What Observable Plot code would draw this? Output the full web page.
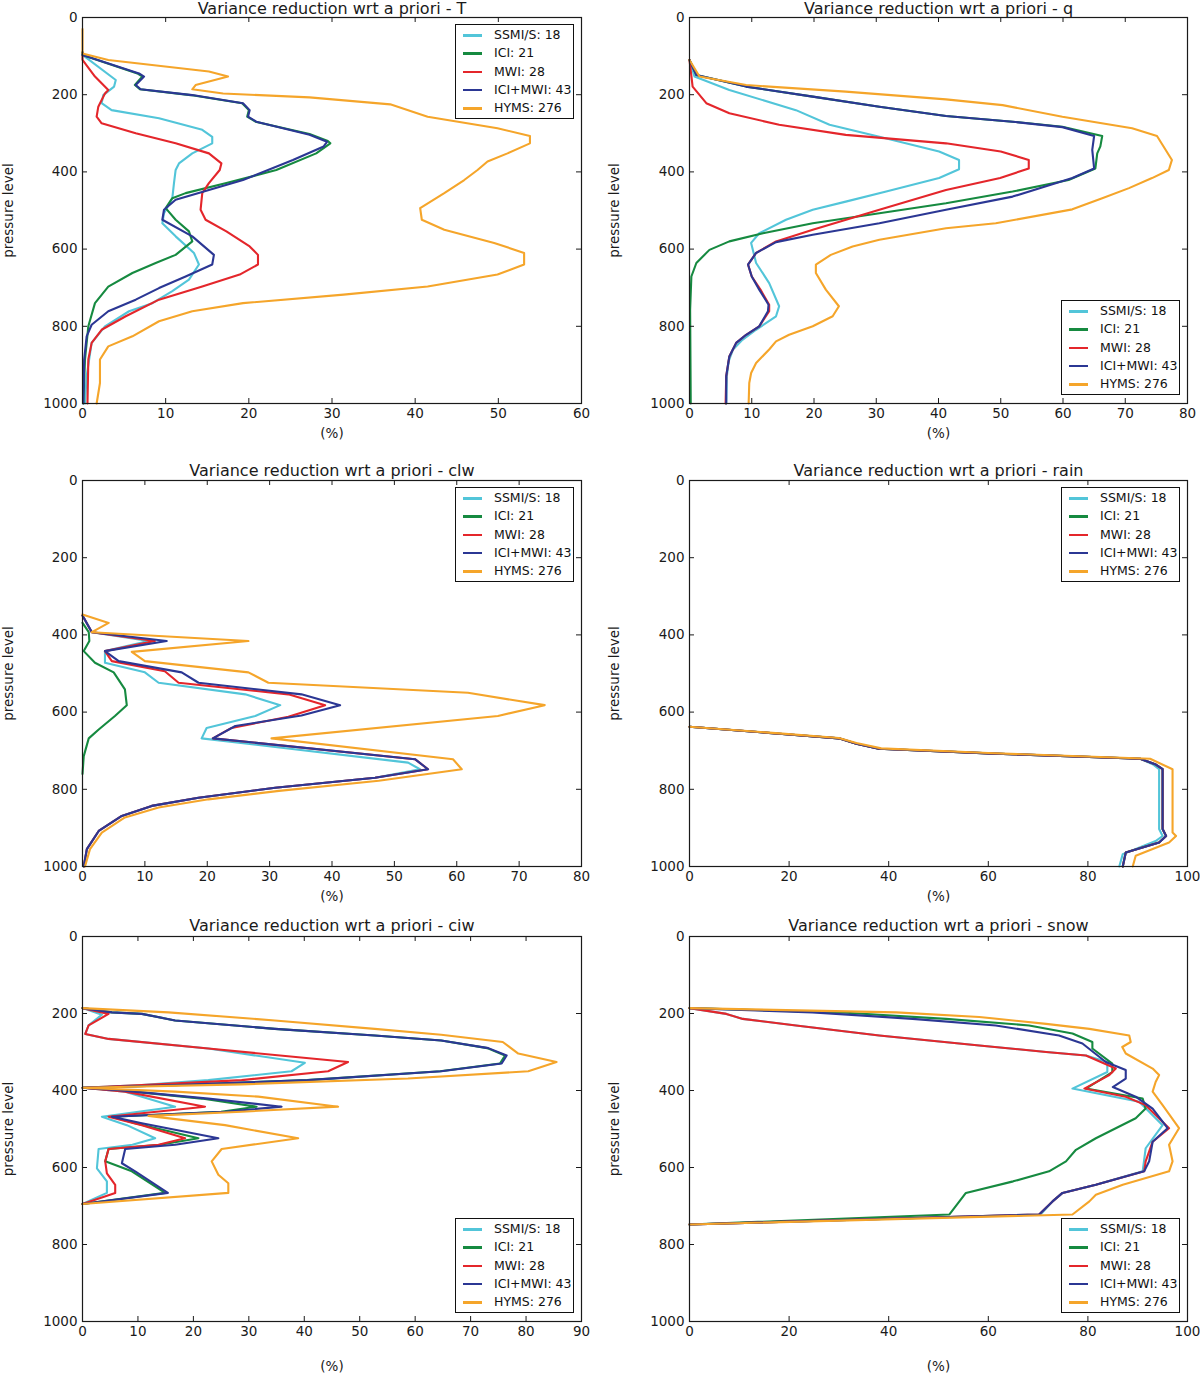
<!DOCTYPE html>
<html><head><meta charset="utf-8">
<script src="https://cdn.jsdelivr.net/npm/d3@7"></script>
<script src="https://cdn.jsdelivr.net/npm/@observablehq/plot@0.6"></script>
<style>
body{margin:0;background:#fff;}
#wrap{position:relative;width:1200px;height:1374px;font-family:"DejaVu Sans",sans-serif;overflow:hidden;}
.panel{position:absolute;}
.legend{position:absolute;width:117px;height:93px;border:1px solid #111;background:#fff;font-size:12.5px;color:#111;}
.legend .row{position:absolute;left:0;height:18px;width:117px;}
.legend .sw{position:absolute;left:7px;top:8px;width:19px;height:2.5px;}
.legend .lb{position:absolute;left:38px;top:0;line-height:18px;white-space:nowrap;}
</style></head><body><div id="wrap"></div>
<script>
// Series labels and colours
const SERIES = ["SSMI/S: 18", "ICI: 21", "MWI: 28", "ICI+MWI: 43", "HYMS: 276"];
const COLORS = ["#52c5d9", "#168a40", "#e4262b", "#2b3794", "#f5a52a"];
const Y_TICKS = [0, 200, 400, 600, 800, 1000];

// ---- T : [percent, pressure level] ----
const T_SSMIS = [[0,90],[0,97],[4.0,162],[3.8,179],[2.5,201],[2.3,222],[3.5,240],[9.2,261],[14.4,291],[15.6,309],[15.6,326],[13.2,352],[11.6,378],[11.2,395],[11.0,429],[10.8,468],[9.8,507],[9.6,533],[11.2,567],[13.4,610],[14.0,640],[12.8,679],[10.8,709],[8.4,740],[5.6,761],[2.7,800],[1.1,843],[0.5,929],[0.3,1000]];
const T_ICI = [[0,90],[0,97],[6.6,145],[7.2,153],[6.3,175],[6.9,186],[13.0,201],[19.2,222],[20.0,240],[19.8,257],[20.8,270],[27.3,302],[29.5,320],[29.8,326],[28.1,352],[23.3,395],[17.3,429],[12.4,455],[10.8,468],[10.0,494],[11.2,524],[12.8,554],[13.2,580],[11.2,615],[8.8,636],[6.0,662],[3.1,697],[1.5,740],[0.7,800],[0.3,886],[0.1,1000]];
const T_MWI = [[0,100],[0,110],[1.5,153],[3.1,188],[2.7,197],[1.9,231],[1.7,257],[2.3,274],[6.4,300],[11.2,326],[15.2,352],[16.7,378],[16.5,395],[15.2,429],[14.4,455],[14.2,498],[14.8,524],[17.3,554],[20.1,593],[21.1,615],[21.1,640],[18.9,666],[14.4,697],[9.2,731],[5.2,774],[2.3,809],[1.1,843],[0.7,886],[0.6,1000]];
const T_ICIMWI = [[0,90],[0,97],[6.8,145],[7.4,153],[6.4,175],[7.0,186],[13.2,201],[19.3,222],[20.1,240],[19.9,257],[20.9,270],[27.3,304],[29.4,322],[29.0,334],[25.3,369],[19.3,421],[15.2,447],[11.2,472],[9.8,498],[9.6,524],[13.2,567],[15.8,615],[15.6,640],[12.4,671],[9.2,701],[6.4,731],[3.1,761],[1.1,796],[0.5,826],[0.2,886],[0.1,1000]];
const T_HYMS = [[0,30],[0,93],[3.1,110],[15.2,140],[17.5,153],[13.6,175],[13.2,186],[16.9,197],[27.3,207],[37.0,225],[41.5,257],[49.9,287],[53.8,307],[53.8,326],[51.1,352],[48.7,373],[47.5,395],[45.9,421],[43.5,455],[40.6,494],[40.8,524],[43.5,550],[49.5,584],[53.1,610],[53.1,640],[49.9,666],[41.5,697],[31.4,718],[19.3,740],[13.2,761],[9.2,787],[6.0,826],[3.1,852],[2.1,886],[2.1,947],[1.7,1000]];

// ---- q ----
const q_SSMIS = [[0,110],[0.8,153],[6.4,188],[17.1,240],[22.5,278],[30.5,309],[40.1,347],[43.3,369],[43.3,393],[40.1,416],[31.6,451],[25.1,477],[19.8,498],[15.5,524],[11.2,559],[9.9,584],[10.7,636],[12.8,688],[14.4,748],[13.9,774],[10.7,809],[8.5,835],[7.0,860],[6.3,890],[6.0,929],[5.9,1000]];
const q_ICI = [[0,110],[1.1,149],[9.1,179],[19.8,205],[30.5,231],[41.2,255],[51.9,270],[59.9,283],[66.3,307],[66.0,334],[65.5,352],[65.2,391],[60.9,421],[51.9,451],[41.2,481],[30.5,507],[19.8,533],[11.8,559],[6.4,580],[3.2,602],[1.1,636],[0.3,671],[0.1,757],[0.2,1000]];
const q_MWI = [[0,110],[0.5,179],[2.7,222],[6.4,248],[14.4,278],[25.1,304],[41.2,326],[50.0,347],[54.5,369],[54.5,391],[49.9,416],[41.2,447],[30.5,498],[19.8,550],[13.9,580],[10.7,610],[9.4,640],[10.0,671],[11.4,705],[12.8,744],[12.8,761],[11.2,800],[9.1,822],[7.5,843],[6.4,878],[5.9,929],[5.8,1000]];
const q_ICIMWI = [[0,110],[1.1,149],[9.1,179],[19.8,205],[30.5,231],[41.2,255],[51.9,270],[59.9,284],[65.0,307],[64.7,343],[65.0,391],[61.5,416],[51.9,464],[41.2,498],[30.5,533],[19.8,563],[13.9,582],[10.7,610],[9.4,640],[10.0,671],[11.2,705],[12.7,744],[12.6,761],[11.2,800],[9.1,822],[7.5,843],[6.4,878],[5.9,929],[5.9,1000]];
const q_HYMS = [[0,110],[1.6,153],[9.1,175],[25.1,192],[41.2,212],[50.3,227],[59.9,257],[71.1,287],[75.1,307],[77.5,369],[77.0,395],[74.3,416],[70.6,442],[66.3,468],[61.5,497],[49.2,533],[41.2,546],[30.5,576],[26.2,593],[22.7,615],[20.3,640],[20.3,662],[21.9,705],[24.0,748],[23.0,774],[19.8,800],[16.0,822],[13.9,839],[12.8,860],[10.7,895],[9.9,921],[9.6,947],[9.5,1000]];

// ---- clw ----
const clw_SSMIS = [[0,350],[1.5,393],[10.6,416],[3.6,442],[3.6,472],[10.0,497],[12.2,524],[26.1,554],[31.7,582],[27.7,610],[19.9,641],[19.1,668],[52.2,731],[54.1,748],[46.9,770],[30.9,796],[18.6,822],[11.1,843],[6.3,869],[2.6,908],[0.7,955],[0.2,1000]];
const clw_ICI = [[0,369],[1.0,393],[1.1,416],[0.2,442],[2.0,472],[5.0,497],[6.8,541],[7.1,582],[5.2,610],[2.6,645],[1.0,668],[0.2,714],[0,760]];
const clw_MWI = [[0,350],[1.5,393],[11.6,416],[3.6,442],[4.7,468],[13.2,494],[15.4,524],[33.0,554],[38.9,582],[33.0,612],[23.9,641],[20.9,668],[53.3,722],[55.4,748],[46.9,770],[30.9,796],[18.6,822],[11.1,843],[6.3,869],[2.6,908],[0.7,955],[0.2,1000]];
const clw_ICIMWI = [[0,350],[1.5,393],[13.5,416],[3.6,442],[5.8,468],[15.9,497],[18.6,524],[35.1,554],[41.3,582],[35.1,609],[24.5,636],[20.9,668],[53.3,722],[55.4,748],[46.9,770],[30.9,796],[18.6,822],[11.1,843],[6.3,869],[2.6,908],[0.7,955],[0.2,1000]];
const clw_HYMS = [[0,347],[4.2,369],[1.5,393],[26.6,416],[7.9,444],[10.0,468],[26.6,497],[29.8,524],[61.8,550],[74.1,582],[66.6,610],[30.3,668],[59.4,722],[60.8,748],[47.5,778],[31.5,804],[20.2,826],[12.2,847],[6.8,873],[3.1,912],[1.2,955],[0.4,1000]];

// ---- rain ----
const rain_SSMIS = [[0,638],[18,656],[30,668],[33.5,682],[38,695],[60,707],[90.5,721],[93,735],[94.3,748],[94.3,903],[95,921],[93.6,934],[87,968],[86.3,1000]];
const rain_ICI = [[0,638],[18,656],[30,668],[33.5,682],[38,695],[60,707],[90.5,721],[93.5,735],[95,748],[95,903],[95.7,921],[94.3,938],[87.6,964],[87,1000]];
const rain_MWI = [[0,638],[18,656],[30,668],[33.5,682],[38,695],[60,707],[90.5,721],[93.5,735],[95,748],[95,903],[95.7,921],[94.3,938],[87.6,964],[87,1000]];
const rain_ICIMWI = [[0,638],[18,656],[30,668],[33.5,682],[38,695],[60,707],[90.5,721],[93.5,735],[95,748],[95,903],[95.7,921],[94.3,938],[87.6,964],[87,1000]];
const rain_HYMS = [[0,638],[18,655],[30,667],[33.5,680],[38.5,694],[60,706],[92.5,721],[97,748],[97,912],[97.7,921],[96.3,938],[89.6,972],[89,1000]];

// ---- ciw ----
const ciw_SSMIS = [[0,186],[3.5,203],[1.1,231],[0.5,253],[4.7,266],[22.7,291],[40.1,328],[37.7,350],[22.7,373],[10.7,386],[0,393],[7.7,403],[16.7,442],[3.5,468],[8.0,490],[13.1,524],[9.0,541],[2.9,552],[2.6,602],[4.4,636],[4.4,666],[0,695]];
const ciw_ICI = [[0,186],[5.3,197],[10.7,201],[16.7,218],[34.7,240],[52.7,257],[64.7,270],[73.0,290],[76.2,309],[75.3,330],[64.5,350],[40.5,373],[16.5,386],[0,393],[6.5,399],[21.5,421],[31.4,442],[25.0,455],[5.3,468],[9.5,485],[20.9,524],[14.0,541],[4.7,552],[4.1,584],[8.9,610],[14.9,666],[0,695]];
const ciw_MWI = [[0,186],[4.7,201],[1.1,231],[0.5,253],[4.7,266],[22.7,291],[47.9,326],[44.3,350],[28.7,373],[10.7,386],[0,393],[7.7,403],[22.1,442],[10.7,459],[4.7,468],[10.7,490],[18.5,524],[13.7,541],[4.7,552],[4.1,584],[4.4,615],[5.9,645],[5.9,666],[0,695]];
const ciw_ICIMWI = [[0,186],[5.3,197],[10.7,201],[16.7,218],[34.7,240],[52.7,257],[64.7,270],[73.2,290],[76.5,309],[75.6,330],[64.7,350],[40.7,373],[16.7,386],[0,393],[6.5,399],[22.7,421],[35.9,442],[25.7,455],[5.3,468],[10.7,485],[24.5,524],[16.7,541],[7.7,552],[7.1,589],[9.5,610],[15.4,666],[0,695]];
const ciw_HYMS = [[0,186],[15.5,197],[34.7,218],[52.7,240],[64.7,255],[75.8,274],[78.6,304],[85.5,326],[80.4,350],[58.7,369],[28.7,384],[0,393],[16.7,403],[31.7,416],[46.1,442],[28.7,455],[11.9,466],[25.7,490],[38.9,524],[25.1,552],[23.3,584],[24.5,619],[26.3,641],[26.3,666],[0,695]];

// ---- snow ----
const snow_SSMIS = [[0,186],[7.4,201],[10.7,214],[21.4,231],[38.1,257],[58.2,283],[71.6,300],[79.6,309],[83.9,326],[83.9,352],[76.9,395],[90.3,429],[95.0,490],[91.6,550],[91.0,610],[81.6,645],[74.9,666],[72.9,688],[70.5,722],[0,748]];
const snow_ICI = [[0,186],[31.4,198],[51.5,214],[68.2,231],[76.9,252],[80.9,274],[80.9,291],[84.9,330],[84.9,352],[79.6,395],[91.0,421],[91.6,447],[89.6,472],[85.6,498],[81.6,524],[77.6,554],[75.6,584],[72.2,610],[65.0,636],[55.5,666],[52.2,722],[0,748]];
const snow_MWI = [[0,186],[7.4,201],[10.7,214],[21.4,231],[38.1,257],[58.2,283],[71.6,300],[79.6,309],[85.6,343],[84.3,360],[79.3,395],[87.6,416],[91.6,438],[96.3,498],[93.0,533],[91.6,584],[91.3,610],[81.6,645],[74.9,666],[72.9,688],[70.2,722],[0,748]];
const snow_ICIMWI = [[0,186],[24.7,197],[44.8,214],[61.5,231],[74.2,257],[78.9,278],[83.6,326],[87.6,347],[87.6,369],[85.0,391],[89.6,416],[93.0,447],[96.0,498],[93.0,533],[92.3,584],[91.3,610],[81.6,645],[74.9,666],[72.9,688],[70.2,722],[0,748]];
const snow_HYMS = [[0,186],[41.5,197],[58.2,209],[71.6,227],[80.3,240],[88.3,257],[88.6,274],[86.9,287],[87.6,304],[93.0,343],[94.3,360],[93.6,378],[93.0,403],[95.0,438],[98.3,498],[96.3,541],[97.0,584],[96.3,610],[87.0,645],[81.6,671],[80.3,688],[76.9,722],[0,748]];

const PANELS = [
  {title:"Variance reduction wrt a priori - T",    series:[T_SSMIS,T_ICI,T_MWI,T_ICIMWI,T_HYMS],                xmax:60,  xstep:10, col:0, row:0, legend:"top"},
  {title:"Variance reduction wrt a priori - q",    series:[q_SSMIS,q_ICI,q_MWI,q_ICIMWI,q_HYMS],                xmax:80,  xstep:10, col:1, row:0, legend:"bottom"},
  {title:"Variance reduction wrt a priori - clw",  series:[clw_SSMIS,clw_ICI,clw_MWI,clw_ICIMWI,clw_HYMS],      xmax:80,  xstep:10, col:0, row:1, legend:"top"},
  {title:"Variance reduction wrt a priori - rain", series:[rain_SSMIS,rain_ICI,rain_MWI,rain_ICIMWI,rain_HYMS], xmax:100, xstep:20, col:1, row:1, legend:"top"},
  {title:"Variance reduction wrt a priori - ciw",  series:[ciw_SSMIS,ciw_ICI,ciw_MWI,ciw_ICIMWI,ciw_HYMS],      xmax:90,  xstep:10, col:0, row:2, legend:"bottom"},
  {title:"Variance reduction wrt a priori - snow", series:[snow_SSMIS,snow_ICI,snow_MWI,snow_ICIMWI,snow_HYMS], xmax:100, xstep:20, col:1, row:2, legend:"bottom"}
];

const ROWS = [
  {top:0,   height:450, mt:17, mb:47, titleDy:-4, pctDy:30},
  {top:460, height:450, mt:20, mb:44, titleDy:-5, pctDy:30},
  {top:915, height:459, mt:21, mb:53, titleDy:-6, pctDy:45}
];
const COLS = [
  {left:0,   width:600, ml:82, mr:19, ylabDx:-74},
  {left:600, width:600, ml:89, mr:13, ylabDx:-75}
];

const wrap = document.getElementById("wrap");
const ink = "#1a1a1a";

for (const p of PANELS) {
  const R = ROWS[p.row], C = COLS[p.col];
  const plotW = C.width - C.ml - C.mr;
  const plotH = R.height - R.mt - R.mb;
  const xt = d3.range(0, p.xmax + 0.001, p.xstep);
  const marks = [];
  p.series.forEach((s, i) => {
    marks.push(Plot.line(s, {x: d => d[0], y: d => d[1], stroke: COLORS[i], strokeWidth: 2.1, strokeLinejoin: "round"}));
  });
  marks.push(
    Plot.tickX(xt, {x: d => d, insetTop: plotH - 5, stroke: ink}),
    Plot.tickX(xt, {x: d => d, insetBottom: plotH - 5, stroke: ink}),
    Plot.tickY(Y_TICKS, {y: d => d, insetRight: plotW - 5, stroke: ink}),
    Plot.tickY(Y_TICKS, {y: d => d, insetLeft: plotW - 5, stroke: ink}),
    Plot.frame({stroke: ink, strokeWidth: 1.2}),
    Plot.axisX(xt, {anchor: "bottom", tickSize: 0, tickPadding: 5, tickFormat: d => String(d), label: null, fontSize: 13.5}),
    Plot.axisY(Y_TICKS, {anchor: "left", tickSize: 0, tickPadding: 5, tickFormat: d => String(d), label: null, fontSize: 13.5}),
    Plot.text([p.title], {text: d => d, frameAnchor: "top", lineAnchor: "bottom", dy: R.titleDy, fontSize: 16, fill: ink}),
    Plot.text(["(%)"], {text: d => d, frameAnchor: "bottom", lineAnchor: "middle", dy: R.pctDy, fontSize: 13.5, fill: ink}),
    Plot.text(["pressure level"], {text: d => d, frameAnchor: "left", textAnchor: "middle", lineAnchor: "middle", rotate: -90, dx: C.ylabDx, fontSize: 13.5, fill: ink})
  );
  const chart = Plot.plot({
    width: C.width, height: R.height,
    marginLeft: C.ml, marginRight: C.mr, marginTop: R.mt, marginBottom: R.mb,
    style: {fontFamily: "DejaVu Sans, sans-serif", fontSize: "13px", background: "transparent", color: ink, overflow: "visible"},
    x: {domain: [0, p.xmax]},
    y: {domain: [0, 1000], reverse: true},
    marks
  });
  const div = document.createElement("div");
  div.className = "panel";
  div.style.left = C.left + "px";
  div.style.top = R.top + "px";
  div.appendChild(chart);
  wrap.appendChild(div);

  // legend
  const lg = document.createElement("div");
  lg.className = "legend";
  const plotRight = C.left + C.width - C.mr;
  const plotTop = R.top + R.mt, plotBottom = R.top + R.height - R.mb;
  lg.style.left = (plotRight - 7 - 119) + "px";
  lg.style.top = (p.legend === "top" ? plotTop + 7 : plotBottom - 8 - 95) + "px";
  SERIES.forEach((name, i) => {
    const row = document.createElement("div");
    row.className = "row";
    row.style.top = (1 + i * 18.3) + "px";
    const sw = document.createElement("div");
    sw.className = "sw";
    sw.style.background = COLORS[i];
    const lb = document.createElement("div");
    lb.className = "lb";
    lb.textContent = name;
    row.appendChild(sw); row.appendChild(lb);
    lg.appendChild(row);
  });
  wrap.appendChild(lg);
}
</script>
</body></html>
